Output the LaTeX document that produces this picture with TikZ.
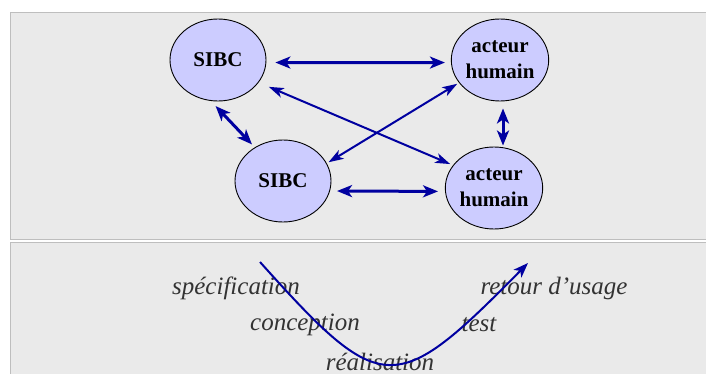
\documentclass[tikz,border=0pt]{standalone}
\usepackage{fontspec}
\setmainfont{Liberation Serif}
\usepackage{xcolor}
\usetikzlibrary{arrows.meta,shapes.geometric}
\definecolor{panel}{HTML}{EAEAEA}
\definecolor{panelline}{HTML}{BEBEBE}
\definecolor{actor}{HTML}{CCCCFF}
\definecolor{linkblue}{HTML}{0000A0}
\definecolor{steptext}{HTML}{333333}

\begin{document}
\begin{tikzpicture}[x=1pt, y=-1pt,
    agent/.style={ellipse, draw=black, line width=0.9pt, fill=actor,
        minimum width=96pt, minimum height=82pt, inner sep=0pt,
        align=center, font=\bfseries\fontsize{21}{26}\selectfont},
    link/.style={draw=linkblue, line width=3pt,
        {Stealth[length=15pt,width=12pt,inset=4pt]}-{Stealth[length=15pt,width=12pt,inset=4pt]}},
    thinlink/.style={draw=linkblue, line width=2pt,
        {Stealth[length=15pt,width=10pt,inset=4pt]}-{Stealth[length=15pt,width=10pt,inset=4pt]}},
    phase/.style={text=steptext, inner sep=0pt, font=\itshape\fontsize{25}{29}\selectfont}
]
    \useasboundingbox (0,0) rectangle (706,374);

    % two panels
    \draw[panelline, fill=panel, line width=1.3pt] (10.5,12.5) rectangle (730,239.5);
    \draw[panelline, fill=panel, line width=1.3pt] (10.5,242.5) rectangle (730,400);

    % systems and humans
    \node[agent] (sibca) at (218,60) {SIBC};
    \node[agent] (hum1) at (500,60) {acteur\\humain};
    \node[agent] (sibcb) at (283,181) {SIBC};
    \node[agent] (hum2) at (494,188) {acteur\\humain};

    \draw[link, shorten <=9pt, shorten >=6pt] (sibca.-3) -- (hum1.183);
    \draw[link, shorten <=7pt, shorten >=7pt] (sibcb.-12) -- (hum2.184);
    \draw[link, shorten <=7pt, shorten >=4pt] (sibca.260) -- (sibcb.130);
    \draw[link, shorten <=7pt, shorten >=1pt] ([xshift=3pt]hum1.south) -- ([xshift=3pt]hum1.south |- hum2.north);
    \draw[thinlink, shorten <=11pt, shorten >=3pt] (sibca.331) -- (hum2.151);
    \draw[thinlink, shorten <=2pt, shorten >=2pt] (hum1.209) -- (sibcb.22);

    % development cycle
    \node[phase] (spec) at (236,288) {spécification};
    \node[phase] (conc) at (305,325) {conception};
    \node[phase] (real) at (380,362) {réalisation};
    \node[phase] (test) at (479,325) {test};
    \node[phase] (back) at (554,288) {retour d’usage};

    \coordinate (vstart) at (260,262);
    \coordinate (vend) at (528,263);
    \draw[linkblue, line width=2pt, -{Stealth[length=15pt,width=11pt,inset=4pt]}]
        (vstart) .. controls (382,398) and (395,398) .. (vend);
\end{tikzpicture}
\end{document}
